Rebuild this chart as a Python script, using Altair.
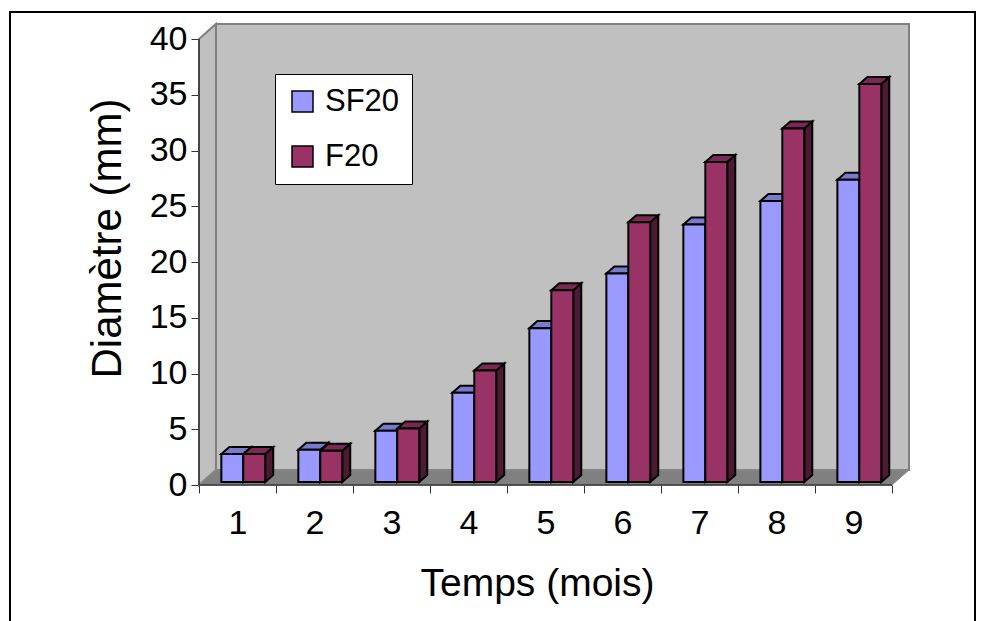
import altair as alt
import pandas as pd

# ---- data ----
months = [1, 2, 3, 4, 5, 6, 7, 8, 9]
sf20 = [2.5, 2.9, 4.6, 8.0, 13.8, 18.7, 23.1, 25.2, 27.1]
f20 = [2.5, 2.8, 4.8, 10.0, 17.2, 23.3, 28.7, 31.7, 35.7]
series = ["SF20", "F20"]
y_ticks = [0, 5, 10, 15, 20, 25, 30, 35, 40]

# ---- styles ----
front_colors = ["#9999FF", "#993366"]
top_colors = ["#7A7ACC", "#7A2952"]
side_colors = ["#5C5C99", "#4D1A33"]
FONT = "Liberation Sans"

# 3-D geometry in data units
WALL_DX, WALL_DY = 0.22, 1.35
BAR_DX, BAR_DY = 0.104, 0.63
BASE = 0.27
bar_span = {"SF20": (-0.21, 0.075), "F20": (0.075, 0.36)}

values = {"SF20": sf20, "F20": f20}
front_rows, top_rows, side_rows = [], [], []
for i, m in enumerate(months):
    for k, s in enumerate(series):
        v = values[s][i]
        xl, xr = m + bar_span[s][0], m + bar_span[s][1]
        bid = f"{m}-{s}"
        front_rows.append(dict(id=bid, series=s, x=xl, x2=xr, y=BASE, y2=v + BASE))
        top_rows.append(dict(id=bid, col=top_colors[k], y=v + BASE, x=xl, x2=xr))
        top_rows.append(dict(id=bid, col=top_colors[k], y=v + BASE + BAR_DY,
                             x=xl + BAR_DX, x2=xr + BAR_DX))
        side_rows.append(dict(id=bid, col=side_colors[k], x=xr, y=BASE, y2=v + BASE))
        side_rows.append(dict(id=bid, col=side_colors[k], x=xr + BAR_DX,
                              y=BASE + BAR_DY, y2=v + BASE + BAR_DY))
front_df = pd.DataFrame(front_rows)
top_df = pd.DataFrame(top_rows)
side_df = pd.DataFrame(side_rows)

x0, x1 = months[0] - 0.5, months[-1] + 0.5
ymax = y_ticks[-1]

xs = alt.Scale(domain=[x0, x1 + WALL_DX], nice=False, zero=False)
ys = alt.Scale(domain=[0, ymax + WALL_DY], nice=False, zero=False)

x_axis = alt.Axis(
    values=[x0 + i for i in range(len(months) + 1)],
    labelExpr=f"datum.value < {x1 - 0.1} ? format(datum.value + 0.5, 'd') : ''",
    labelOffset=38.5, labelFlush=False, labelOverlap=False,
    tickSize=8, tickColor="#333333", tickWidth=1, domain=False, grid=False,
    labelFont=FONT, labelFontSize=34, labelColor="black", labelPadding=13,
    title="Temps (mois)", titleFont=FONT, titleFontSize=39, titleFontWeight="normal",
    titleColor="black", titleX=338, titleY=79, titleBaseline="top",
)
y_axis = alt.Axis(
    values=y_ticks, tickSize=8, tickColor="#333333", tickWidth=1, domain=False, grid=False,
    labelFont=FONT, labelFontSize=34, labelColor="black", labelPadding=4,
    title="Diamètre (mm)", titleFont=FONT, titleFontSize=42, titleFontWeight="normal",
    titleColor="black", titleX=-70, titleY=214,
)


def X(f="x"):
    return alt.X(f"{f}:Q", scale=xs, axis=x_axis, stack=None)


def Y(f="y"):
    return alt.Y(f"{f}:Q", scale=ys, axis=y_axis, stack=None)


# ---- walls / floor ----
back_df = pd.DataFrame([dict(x=x0 + WALL_DX, x2=x1 + WALL_DX, y=WALL_DY, y2=ymax + WALL_DY)])
back = alt.Chart(back_df).mark_rect(fill="#C0C0C0", stroke="#808080", strokeWidth=2).encode(
    x=X(), x2="x2:Q", y=Y(), y2="y2:Q")

left_df = pd.DataFrame([dict(x=x0, y=0, y2=ymax), dict(x=x0 + WALL_DX, y=WALL_DY, y2=ymax + WALL_DY)])
left = alt.Chart(left_df).mark_area(orient="vertical", fill="#C0C0C0", stroke="#808080",
                                    strokeWidth=2).encode(x=X(), y=Y(), y2="y2:Q")

floor_df = pd.DataFrame([dict(y=0, x=x0, x2=x1), dict(y=WALL_DY, x=x0 + WALL_DX, x2=x1 + WALL_DX)])
floor = alt.Chart(floor_df).mark_area(orient="horizontal", fill="#808080", stroke="#8C8C8C",
                                      strokeWidth=1).encode(y=Y(), x=X(), x2="x2:Q")

axis_lines_df = pd.DataFrame([dict(x=x0, x2=x0, y=0, y2=ymax), dict(x=x0, x2=x1, y=0, y2=0)])
axis_lines = alt.Chart(axis_lines_df).mark_rule(color="#333333", strokeWidth=1.5).encode(
    x=X(), x2="x2:Q", y=Y(), y2="y2:Q")

# ---- bars ----
sides = alt.Chart(side_df).mark_area(orient="vertical", stroke="black", strokeWidth=2,
                                     strokeJoin="miter").encode(
    x=X(), y=Y(), y2="y2:Q", detail="id:N", fill=alt.Fill("col:N", scale=None))

tops = alt.Chart(top_df).mark_area(orient="horizontal", stroke="black", strokeWidth=2,
                                   strokeJoin="miter").encode(
    y=Y(), x=X(), x2="x2:Q", detail="id:N", fill=alt.Fill("col:N", scale=None))

fronts = alt.Chart(front_df).mark_rect(stroke="black", strokeWidth=2).encode(
    x=X(), x2="x2:Q", y=Y(), y2="y2:Q",
    fill=alt.Fill("series:N", scale=alt.Scale(domain=series, range=front_colors),
                  legend=alt.Legend(
                      title=None, orient="none", legendX=76, legendY=50,
                      fillColor="white", strokeColor="black",
                      padding=12, symbolType="square", symbolSize=441,
                      symbolStrokeColor="black", symbolStrokeWidth=1.5,
                      labelFont=FONT, labelFontSize=31, labelColor="black",
                      labelOffset=7, rowPadding=23)),
)

# ---- outer frame ----
frame = alt.Chart(pd.DataFrame([{"k": 0}])).mark_rect(
    fill="transparent", stroke="black", strokeWidth=2).encode(
    x=alt.value(-189), x2=alt.value(776), y=alt.value(-12), y2=alt.value(650))

chart = alt.layer(back, left, floor, axis_lines, sides, tops, fronts, frame).properties(
    width=710, height=461,
    autosize=alt.AutoSizeParams(type="none"),
    padding={"left": 199, "top": 24, "right": 74, "bottom": 136},
    background="white",
).configure_view(stroke=None)

chart.save("out.html", embed_options={"renderer": "svg", "actions": False})
